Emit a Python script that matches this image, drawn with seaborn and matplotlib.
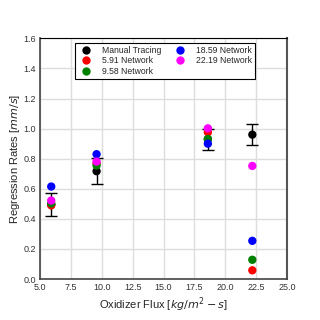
import numpy as np
import pandas as pd
import matplotlib
matplotlib.use('Agg')
import matplotlib.pyplot as plt
from matplotlib.ticker import MultipleLocator
import seaborn as sns

# Data
flux = [5.91, 9.58, 18.59, 22.19]
manual = [0.495, 0.717, 0.93, 0.96]
manual_err = [0.075, 0.085, 0.07, 0.07]
net_591 = [0.49, 0.77, 0.976, 0.058]
net_958 = [0.503, 0.755, 0.931, 0.128]
net_1859 = [0.615, 0.83, 0.90, 0.254]
net_2219 = [0.522, 0.781, 1.002, 0.752]

series = ['Manual Tracing', '5.91 Network', '9.58 Network', '18.59 Network', '22.19 Network']
colors = ['black', 'red', 'green', 'blue', 'magenta']

sns.set_style('white')
plt.rcParams['font.family'] = ['Liberation Sans', 'DejaVu Sans']
plt.rcParams['mathtext.fontset'] = 'dejavusans'

rows = []
for name, vals in zip(series, [manual, net_591, net_958, net_1859, net_2219]):
    for x, y in zip(flux, vals):
        rows.append({'flux': x, 'rate': y, 'series': name})
df = pd.DataFrame(rows)

fig = plt.figure(figsize=(3.2, 3.2), dpi=100)
ax = fig.add_axes([0.125, 0.128, 0.772, 0.752])

ax.errorbar(flux, manual, yerr=manual_err, fmt='none', ecolor='black',
            elinewidth=1.0, capsize=4.5, capthick=1.0, zorder=2)
sns.scatterplot(data=df, x='flux', y='rate', hue='series', palette=colors,
                hue_order=series, s=36, edgecolor='none', ax=ax, zorder=3)

ax.set_xlim(5, 25)
ax.set_ylim(0, 1.6)
ax.xaxis.set_major_locator(MultipleLocator(2.5))
ax.xaxis.set_minor_locator(MultipleLocator(0.5))
ax.yaxis.set_major_locator(MultipleLocator(0.2))
ax.yaxis.set_minor_locator(MultipleLocator(0.05))
ax.grid(True, which='major', color='#dddddd', linewidth=1.0)
ax.set_axisbelow(True)

ax.tick_params(which='major', direction='inout', length=4, width=1.0,
               labelsize=6.5, colors='#333333', pad=1)
ax.tick_params(which='minor', direction='in', length=2, width=0.8, colors='#333333')
for s in ['left', 'bottom']:
    ax.spines[s].set_color('#444444')
    ax.spines[s].set_linewidth(1.2)
ax.spines['top'].set_color('black')
ax.spines['top'].set_linewidth(0.8)
ax.spines['right'].set_color('#555555')
ax.spines['right'].set_linewidth(1.5)

ax.set_xlabel('Oxidizer Flux [$kg/m^2-s$]', fontsize=8, labelpad=2)
ax.set_ylabel('Regression Rates [$mm/s$]', fontsize=8, labelpad=1)

ax.legend(loc='upper center', ncol=2, fontsize=6.2, frameon=True, fancybox=False,
          edgecolor='black', framealpha=1, markerscale=1.0, handletextpad=0.8,
          columnspacing=1.2, borderpad=0.35, labelspacing=0.2,
          bbox_to_anchor=(0.505, 1.0))
ax.get_legend().get_frame().set_linewidth(0.8)

fig.savefig('out.png', dpi=100)
